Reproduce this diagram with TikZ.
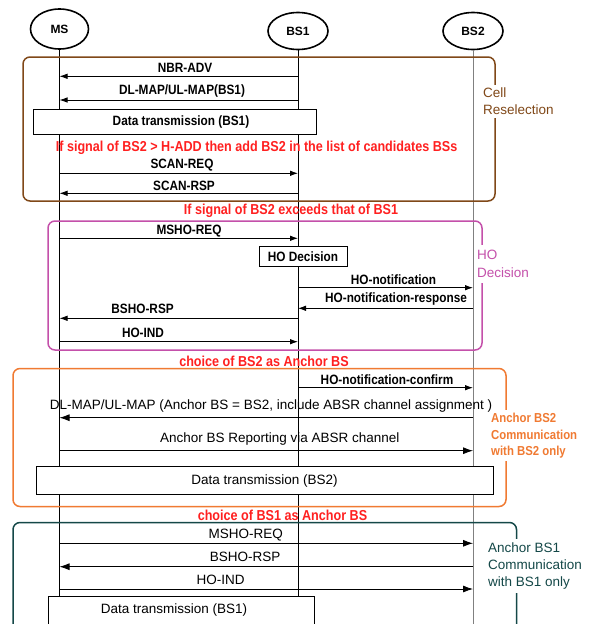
\documentclass[tikz,border=0pt]{standalone}
\usepackage{fontspec}
\setmainfont{Liberation Sans}
\newfontfamily\narrowfont{Liberation Sans}[FakeStretch=0.875]
\usetikzlibrary{arrows.meta,shapes.geometric}
\definecolor{cbrown}{RGB}{128,72,24}
\definecolor{cmag}{RGB}{196,80,170}
\definecolor{corange}{RGB}{240,122,50}
\definecolor{cteal}{RGB}{20,72,72}
\definecolor{cred}{RGB}{255,32,32}
\begin{document}
\begin{tikzpicture}[x=1pt,y=-1pt,
  head/.style={ellipse, draw, line width=1.6pt, minimum width=60pt, minimum height=37pt, inner sep=0pt, font=\fontsize{12}{14}\selectfont\bfseries},
  life/.style={line width=0.8pt},
  msgA/.style={line width=0.8pt, -{Latex[length=8pt,width=5.5pt]}},
  msgB/.style={line width=0.8pt, -{Latex[length=10pt,width=7pt]}},
  lblA/.style={font=\narrowfont\fontsize{13.5}{16}\selectfont\bfseries, inner sep=0pt},
  lblB/.style={font=\fontsize{13.5}{16}\selectfont, inner sep=0pt},
  cond/.style={text=cred, font=\narrowfont\fontsize{14.4}{17}\selectfont\bfseries, inner sep=0pt},
  frame/.style={rounded corners=7pt, line width=1.5pt},
  side/.style={fill=white, inner xsep=1.5pt, inner ysep=3pt, align=left, anchor=west},
  databox/.style={draw, fill=white, line width=0.8pt, inner sep=0pt},
]
\clip (0,0) rectangle (590,624);
\fill[white] (0,0) rectangle (590,624);

% heads
\node[head, minimum width=58pt, minimum height=40pt] (ms) at (59.5,29) {MS};
\node[head] (bs1) at (298,31) {BS1};
\node[head] (bs2) at (473,31) {BS2};

% lifelines
\draw[life] (ms.south) -- (ms |- 0,624);
\draw[life] (bs1.south) -- (bs1 |- 0,624);
\draw[life, gray] (bs2.south) -- (bs2 |- 0,624);

% frames
\draw[frame, cbrown] (23,57) rectangle (495,201);
\draw[frame, cmag] (48,221) rectangle (482,350);
\draw[frame, corange] (13,368.5) rectangle (506,506.5);
\draw[frame, cteal] (13,522.5) rectangle (516.5,660);

% side labels
\node[side, text=cbrown, font=\fontsize{13.5}{17.3}\selectfont] (lcell) at (481.5,101.5) {Cell\\Reselection};
\node[side, text=cmag, inner ysep=5pt, font=\fontsize{13.5}{18}\selectfont] (lho) at (475.5,264) {HO\\Decision};
\node[side, text=corange, font=\narrowfont\fontsize{13}{16.5}\selectfont\bfseries] (lab2) at (489.5,435.7) {Anchor BS2\\Communication\\with BS2 only};
\node[side, text=cteal, inner ysep=4pt, font=\fontsize{13.5}{17}\selectfont] (lab1) at (486.5,566) {Anchor BS1\\Communication\\with BS1 only};

% section 1
\draw[msgA] (bs1 |- 0,76.3) -- (ms |- 0,76.3);
\node[lblA] (t1) at (185,68) {NBR-ADV};
\draw[msgA] (bs1 |- 0,100) -- (ms |- 0,100);
\node[lblA] (t2) at (182,90.7) {DL-MAP/UL-MAP(BS1)};
\node[databox, minimum width=283pt, minimum height=25.4pt] (dt1) at (175,122) {};
\node[lblA] (t3) at (181,122) {Data transmission (BS1)};
\node[cond] (c1) at (256.6,147.7) {If signal of BS2 > H-ADD then add BS2 in the list of candidates BSs};
\draw[msgA] (ms |- 0,173.3) -- (bs1 |- 0,173.3);
\node[lblA] (t4) at (182,165) {SCAN-REQ};
\draw[msgA] (bs1 |- 0,193.3) -- (ms |- 0,193.3);
\node[lblA] (t5) at (184,185.7) {SCAN-RSP};

% section 2
\node[cond] (c2) at (291,210.7) {If signal of BS2 exceeds that of BS1};
\draw[msgA] (ms |- 0,238.3) -- (bs1 |- 0,238.3);
\node[lblA] (t6) at (189,231) {MSHO-REQ};
\node[databox, lblA, minimum width=88pt, minimum height=19.3pt] (hod) at (303,256.3) {HO Decision};
\draw[msgA] (bs1 |- 0,287.7) -- (bs2 |- 0,287.7);
\node[lblA] (t7) at (393.5,280) {HO-notification};
\draw[msgA] (bs2 |- 0,308.3) -- (bs1 |- 0,308.3);
\node[lblA] (t8) at (396,299.3) {HO-notification-response};
\draw[msgA] (bs1 |- 0,318.3) -- (ms |- 0,318.3);
\node[lblA] (t9) at (142.6,309.3) {BSHO-RSP};
\draw[msgA] (ms |- 0,341.7) -- (bs1 |- 0,341.7);
\node[lblA] (t10) at (143,333.3) {HO-IND};

% section 3
\node[cond] (c3) at (264,361.7) {choice of BS2 as Anchor BS};
\draw[msgA] (bs1 |- 0,387.7) -- (bs2 |- 0,387.7);
\node[lblA] (t11) at (387,379.3) {HO-notification-confirm};
\draw[msgB] (bs2 |- 0,417.7) -- (ms |- 0,417.7);
\node[lblB] (t12) at (271,406) {DL-MAP/UL-MAP (Anchor BS = BS2, include ABSR channel assignment )};
\draw[msgB] (ms |- 0,450.7) -- (bs2 |- 0,450.7);
\node[lblB] (t13) at (279.7,439.3) {Anchor BS Reporting via ABSR channel};
\node[databox, lblB, minimum width=457pt, minimum height=27.3pt] (dt2) at (264.5,480.5) {Data transmission (BS2)};

% section 4
\node[cond] (c4) at (282.5,515) {choice of BS1 as Anchor BS};
\draw[msgB] (ms |- 0,543.3) -- (bs2 |- 0,543.3);
\node[lblB] (t14) at (245.8,535.5) {MSHO-REQ};
\draw[msgB] (bs2 |- 0,566.7) -- (ms |- 0,566.7);
\node[lblB] (t15) at (245.2,557.3) {BSHO-RSP};
\draw[msgB] (ms |- 0,589) -- (bs2 |- 0,589);
\node[lblB] (t16) at (220.5,580) {HO-IND};
\node[databox, minimum width=266.3pt, minimum height=60pt] (dt3) at (181.6,626.7) {};
\node[lblB] (t17) at (174,610) {Data transmission (BS1)};
\end{tikzpicture}
\end{document}
